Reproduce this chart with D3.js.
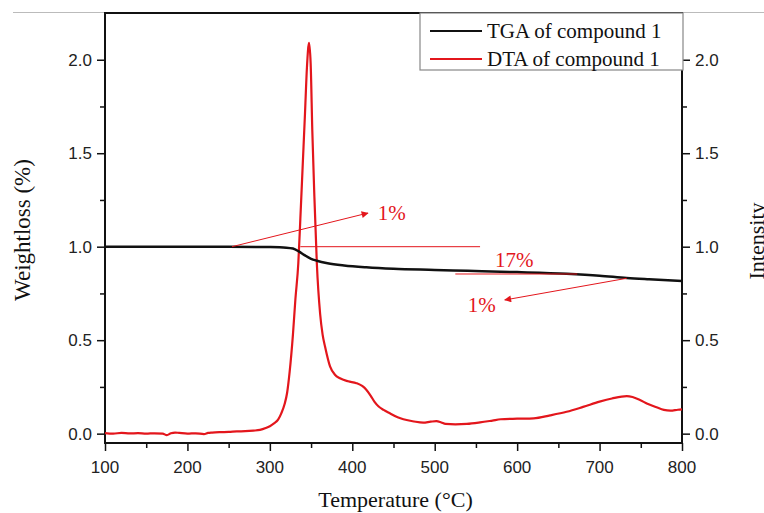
<!DOCTYPE html>
<html lang="en">
    <head>
        <meta charset="utf-8">
        <title>TGA / DTA</title>
        <script src="https://d3js.org/d3.v7.min.js"></script>
        <style type="text/css">
            body { margin: 0; background: #fff; }
        </style>
    </head>
    <body>
        <script>
            // data
            var tgaTemp = [100, 200, 250, 300, 320, 328, 335, 342, 350, 357, 370, 390, 417, 450, 500, 540, 600, 660, 700, 733, 760, 800];
            var tgaValue = [1.0, 1.0, 1.0, 0.998, 0.995, 0.99, 0.975, 0.955, 0.935, 0.925, 0.912, 0.9, 0.89, 0.882, 0.876, 0.871, 0.864, 0.855, 0.845, 0.833, 0.826, 0.817];

            var dtaTemp = [100, 110, 120, 130, 140, 150, 160, 170, 175, 180, 185, 190, 200, 210, 220, 225, 230, 240, 250, 260, 270, 280, 288, 295, 300, 305, 310, 314, 318, 321, 324, 328, 331, 334.5, 337, 340, 342.6, 345, 347.5, 349.5, 351.5, 354, 357, 361, 364, 367, 373, 379, 385, 395, 405, 412, 417, 422, 427, 432, 438, 445, 455, 462, 475, 486, 495, 502, 508, 513, 525, 539, 555, 570, 580, 600, 620, 640, 660, 680, 700, 715, 733, 740, 749, 758, 769, 778, 786, 795, 800];
            var dtaValue = [0.003, 0.0, 0.004, 0.001, 0.003, 0.0, 0.002, 0.0, -0.008, 0.002, 0.006, 0.004, 0.0, 0.002, -0.002, 0.004, 0.006, 0.008, 0.009, 0.012, 0.013, 0.016, 0.02, 0.03, 0.04, 0.055, 0.075, 0.11, 0.16, 0.22, 0.33, 0.53, 0.72, 0.91, 1.15, 1.45, 1.71, 1.96, 2.09, 1.98, 1.62, 1.27, 0.91, 0.64, 0.53, 0.465, 0.36, 0.315, 0.296, 0.28, 0.27, 0.255, 0.235, 0.205, 0.17, 0.145, 0.127, 0.11, 0.088, 0.077, 0.065, 0.059, 0.064, 0.067, 0.06, 0.052, 0.05, 0.052, 0.06, 0.07, 0.077, 0.08, 0.082, 0.098, 0.117, 0.143, 0.171, 0.188, 0.201, 0.196, 0.18, 0.16, 0.141, 0.127, 0.123, 0.128, 0.13];

            var xTicks = [100, 200, 300, 400, 500, 600, 700, 800];
            var yTicks = [0.0, 0.5, 1.0, 1.5, 2.0];
            var seriesNames = ["TGA of compound 1", "DTA of compound 1"];

            // annotations in data units: [t1, v1, t2, v2]
            var arrowLines = [[254, 1.0, 419, 1.18], [733, 0.831, 585, 0.715]];
            var plainLines = [[337, 1.0, 555, 1.0], [525, 0.854, 673, 0.854]];
            var noteTexts = [["1%", 431, 1.143], ["17%", 573, 0.891], ["1%", 540, 0.65]];

            // configuration code
            var width = 764, height = 513;
            var margin = { left: 105, top: 13, right: 82, bottom: 70 };
            var innerWidth = width - margin.left - margin.right;
            var innerHeight = height - margin.top - margin.bottom;
            var red = "#e3161c";
            var sans = "Liberation Sans, Arial, sans-serif";
            var serif = "Liberation Serif, Times New Roman, serif";

            var svg = d3.select("body").append("svg")
                .attr("width", width)
                .attr("height", height);

            svg.append("defs").append("marker")
                .attr("id", "arr")
                .attr("viewBox", "0 0 10 10")
                .attr("refX", 9).attr("refY", 5)
                .attr("markerWidth", 11).attr("markerHeight", 7)
                .attr("markerUnits", "userSpaceOnUse")
                .attr("orient", "auto")
                .append("path")
                .attr("d", "M0,0 L10,5 L0,10 Z")
                .attr("fill", red);

            // thin gray line along the top of the image
            svg.append("line")
                .attr("x1", 13).attr("x2", width)
                .attr("y1", 12.5).attr("y2", 12.5)
                .attr("stroke", "#bbb").attr("stroke-width", 1);

            var g = svg.append("g")
                .attr("transform", "translate(" + margin.left + "," + margin.top + ")");

            var xScale = d3.scaleLinear().domain([100, 800]).range([0, innerWidth]);
            var yScale = d3.scaleLinear().domain([-0.05, 2.25]).range([innerHeight, 0]);

            var fmt = d3.format(".1f");

            // tick marks (minor, then major); labels are added below
            g.append("g").attr("transform", "translate(0," + innerHeight + ")")
                .call(d3.axisBottom(xScale).tickValues(d3.range(150, 800, 100)).tickSize(5));
            g.append("g")
                .call(d3.axisLeft(yScale).tickValues(d3.range(0.25, 2.25, 0.5)).tickSize(5));
            g.append("g").attr("transform", "translate(" + innerWidth + ",0)")
                .call(d3.axisRight(yScale).tickValues(d3.range(0.25, 2.25, 0.5)).tickSize(5));
            g.append("g").attr("transform", "translate(0," + innerHeight + ")")
                .call(d3.axisBottom(xScale).tickValues(xTicks).tickSize(8));
            g.append("g")
                .call(d3.axisLeft(yScale).tickValues(yTicks).tickSize(8));
            g.append("g").attr("transform", "translate(" + innerWidth + ",0)")
                .call(d3.axisRight(yScale).tickValues(yTicks).tickSize(8));

            g.selectAll(".tick text").remove();
            g.selectAll(".domain").remove();
            g.selectAll(".tick line").attr("stroke", "#111").attr("stroke-width", 1.5);

            // tick labels
            var labels = g.append("g").attr("font-family", sans).attr("font-size", 17).attr("fill", "#222");
            labels.selectAll(".xl").data(xTicks).enter().append("text")
                .attr("x", function (d) { return xScale(d); })
                .attr("y", innerHeight + 30)
                .attr("text-anchor", "middle")
                .text(d3.format("d"));
            labels.selectAll(".yl").data(yTicks).enter().append("text")
                .attr("x", -13)
                .attr("y", function (d) { return yScale(d) + 6; })
                .attr("text-anchor", "end")
                .text(fmt);
            labels.selectAll(".yr").data(yTicks).enter().append("text")
                .attr("x", innerWidth + 13)
                .attr("y", function (d) { return yScale(d) + 6; })
                .attr("text-anchor", "start")
                .text(fmt);

            // frame
            g.append("rect")
                .attr("width", innerWidth).attr("height", innerHeight)
                .attr("fill", "none").attr("stroke", "#111").attr("stroke-width", 2);

            var tgaData = tgaTemp.map(function (t, i) { return [t, tgaValue[i]]; });
            var dtaData = dtaTemp.map(function (t, i) { return [t, dtaValue[i]]; });

            var line = d3.line()
                .x(function (d) { return xScale(d[0]); })
                .y(function (d) { return yScale(d[1]); })
                .curve(d3.curveMonotoneX);

            g.append("path").datum(dtaData)
                .attr("d", line).attr("fill", "none")
                .attr("stroke", red).attr("stroke-width", 2.2);

            g.append("path").datum(tgaData)
                .attr("d", line).attr("fill", "none")
                .attr("stroke", "#111").attr("stroke-width", 2.5);

            // annotations
            g.selectAll(".plain").data(plainLines).enter().append("line")
                .attr("x1", function (d) { return xScale(d[0]); })
                .attr("y1", function (d) { return yScale(d[1]); })
                .attr("x2", function (d) { return xScale(d[2]); })
                .attr("y2", function (d) { return yScale(d[3]); })
                .attr("stroke", red).attr("stroke-width", 1);

            g.selectAll(".arrow").data(arrowLines).enter().append("line")
                .attr("x1", function (d) { return xScale(d[0]); })
                .attr("y1", function (d) { return yScale(d[1]); })
                .attr("x2", function (d) { return xScale(d[2]); })
                .attr("y2", function (d) { return yScale(d[3]); })
                .attr("stroke", red).attr("stroke-width", 1)
                .attr("marker-end", "url(#arr)");

            g.selectAll(".note").data(noteTexts).enter().append("text")
                .attr("x", function (d) { return xScale(d[1]); })
                .attr("y", function (d) { return yScale(d[2]); })
                .attr("fill", red)
                .attr("font-family", serif).attr("font-size", 21)
                .text(function (d) { return d[0]; });

            // axis titles
            svg.append("text")
                .attr("x", margin.left + innerWidth / 2 + 2).attr("y", 507)
                .attr("text-anchor", "middle").attr("font-family", serif).attr("font-size", 22).attr("fill", "#111")
                .text("Temperature (°C)");

            svg.append("text")
                .attr("transform", "translate(30," + 230 + ") rotate(-90)")
                .attr("text-anchor", "middle").attr("font-family", serif).attr("font-size", 23).attr("fill", "#111")
                .text("Weightloss (%)");

            // the reference crops this title at the right edge
            svg.append("text")
                .attr("transform", "translate(764," + 241 + ") rotate(-90)")
                .attr("text-anchor", "middle").attr("font-family", serif).attr("font-size", 22).attr("fill", "#111")
                .text("Intensity");

            // legend
            var legend = svg.append("g").attr("transform", "translate(420,13)");
            legend.append("rect")
                .attr("width", 263).attr("height", 57)
                .attr("fill", "#fff").attr("stroke", "#888").attr("stroke-width", 1.2);

            var items = legend.selectAll(".legend").data(seriesNames).enter().append("g")
                .attr("class", "legend")
                .attr("transform", function (d, i) { return "translate(0," + (18 + i * 28) + ")"; });

            items.append("line")
                .attr("x1", 10).attr("x2", 62)
                .attr("stroke", function (d, i) { return i === 0 ? "#111" : red; })
                .attr("stroke-width", 2);

            items.append("text")
                .attr("x", 67).attr("y", 7)
                .attr("font-family", serif).attr("font-size", 21).attr("fill", "#111")
                .text(function (d) { return d; });
        </script>
    </body>
</html>
